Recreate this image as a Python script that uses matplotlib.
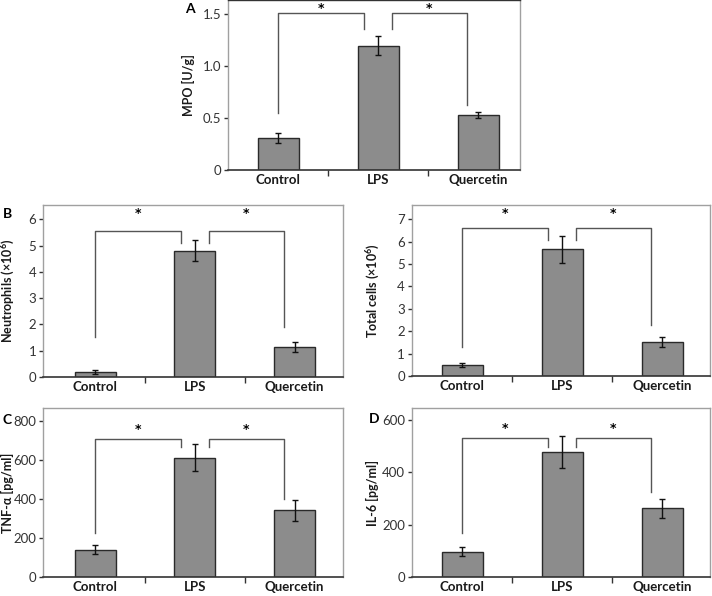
import matplotlib
matplotlib.use("Agg")
import matplotlib.pyplot as plt
import numpy as np

plt.rcParams['font.family'] = ['Lato', 'DejaVu Sans']
plt.rcParams['mathtext.fontset'] = 'custom'
plt.rcParams['mathtext.rm'] = 'Lato'
plt.rcParams['mathtext.bf'] = 'Lato:bold'

categories = ["Control", "LPS", "Quercetin"]

mpo_vals = [0.31, 1.20, 0.53]
mpo_err = [0.05, 0.09, 0.03]
neu_vals = [0.20, 4.80, 1.15]
neu_err = [0.07, 0.40, 0.20]
tot_vals = [0.50, 5.65, 1.50]
tot_err = [0.10, 0.60, 0.22]
tnf_vals = [140, 612, 342]
tnf_err = [22, 68, 55]
il6_vals = [97, 478, 263]
il6_err = [17, 62, 37]

mpo_ticks = [0, 0.5, 1.0, 1.5]
mpo_ticklabels = ["0", "0.5", "1.0", "1.5"]
neu_ticks = [0, 1, 2, 3, 4, 5, 6]
tot_ticks = [0, 1, 2, 3, 4, 5, 6, 7]
tnf_ticks = [0, 200, 400, 600, 800]
il6_ticks = [0, 200, 400, 600]

# bracket spec: (top, leg bottoms [ctrl, lps_left, lps_right, querc], star y)
mpo_br = (1.51, [0.55, 1.36, 1.36, 0.625], 1.56)
neu_br = (5.55, [1.54, 5.10, 5.10, 1.90], 6.22)
tot_br = (6.59, [1.31, 6.07, 6.07, 2.28], 7.25)
tnf_br = (708, [225, 668, 668, 400], 755)
il6_br = (530, [168, 498, 498, 326], 566)

fig = plt.figure(figsize=(7.12, 5.96), dpi=100)

W = 712.0
H = 596.0


def ax_at(l, r, t, b):
    return fig.add_axes([l / W, 1 - b / H, (r - l) / W, (b - t) / H])


GRAY_FRAME = "#a0a0a0"


def panel(ax, vals, err, ticks, ticklabels, ymax, ylabel, br, xlim, labx):
    x = np.arange(len(categories))
    ax.bar(x, vals, width=0.41, color="#8c8c8c", edgecolor="#2a2a2a", linewidth=1.0, zorder=2)
    ax.errorbar(x, vals, yerr=err, fmt="none", ecolor="#111111", elinewidth=1.0,
                capsize=2.5, capthick=1.0, zorder=3)
    ax.set_xlim(*xlim)
    ax.set_ylim(0, ymax)
    ax.set_yticks(ticks)
    ax.set_yticklabels(ticklabels, fontsize=9.5, color="#333333")
    ax.set_xticks([0.5, 1.5])
    ax.set_xticklabels([])
    ax.set_xticks(x, minor=True)
    ax.set_xticklabels(categories, minor=True, fontsize=9.5, fontweight="bold", color="#1a1a1a")
    ax.tick_params(axis="x", which="minor", length=0, pad=3)
    ax.tick_params(axis="x", which="major", length=4, direction="out", color="#333333", width=1)
    ax.tick_params(axis="y", length=3, direction="out", color="#333333", width=1, pad=2)
    for s in ["top", "right", "left"]:
        ax.spines[s].set_color(GRAY_FRAME)
        ax.spines[s].set_linewidth(1.0)
    ax.spines["bottom"].set_color("#333333")
    ax.spines["bottom"].set_linewidth(1.2)
    ax.set_ylabel(ylabel, fontsize=9, fontweight="bold", color="#1a1a1a",
                  va="center", ha="center")
    ax.yaxis.set_label_coords(labx, 0.5)
    top, legs, sy = br
    lc = "#555555"
    x0, x1 = 0.0, 1 - 0.14
    ax.plot([x0, x0, x1, x1], [legs[0], top, top, legs[1]], color=lc, lw=1.0, zorder=1)
    ax.text((x0 + x1) / 2, sy, "*", ha="center", va="center", fontsize=9,
            family="DejaVu Sans", fontweight="bold")
    x2, x3 = 1 + 0.14, 2 - 0.11
    ax.plot([x2, x2, x3, x3], [legs[2], top, top, legs[3]], color=lc, lw=1.0, zorder=1)
    ax.text((x2 + x3) / 2, sy, "*", ha="center", va="center", fontsize=9,
            family="DejaVu Sans", fontweight="bold")


axA = ax_at(228, 520, 0.5, 170)
panel(axA, mpo_vals, mpo_err, mpo_ticks, mpo_ticklabels, 1.635, "MPO [U/g]", mpo_br,
      (-0.5, 2.42), -0.134)
axA.spines["top"].set_color("#333333")

axB = ax_at(43.3, 343, 205, 377)
panel(axB, neu_vals, neu_err, neu_ticks, [str(t) for t in neu_ticks], 6.55,
      "Neutrophils (×10$^\\mathbf{6}$)", neu_br, (-0.52, 2.485), -0.116)

axT = ax_at(412, 710, 205, 376)
panel(axT, tot_vals, tot_err, tot_ticks, [str(t) for t in tot_ticks], 7.63,
      "Total cells (×10$^\\mathbf{6}$)", tot_br, (-0.5, 2.48), -0.131)

axC = ax_at(43.3, 343, 408, 577)
panel(axC, tnf_vals, tnf_err, tnf_ticks, [str(t) for t in tnf_ticks], 866,
      "TNF-α [pg/ml]", tnf_br, (-0.52, 2.485), -0.118)

axD = ax_at(412, 710, 408, 577)
panel(axD, il6_vals, il6_err, il6_ticks, [str(t) for t in il6_ticks], 646,
      "IL-6 [pg/ml]", il6_br, (-0.5, 2.48), -0.131)

for lab, px, py in [("A", 190, 9), ("B", 8, 214), ("C", 7, 420), ("D", 374, 419)]:
    fig.text(px / W, 1 - py / H, lab, fontsize=10, fontweight="bold", ha="center", va="center")

fig.savefig("out.png", dpi=100)
